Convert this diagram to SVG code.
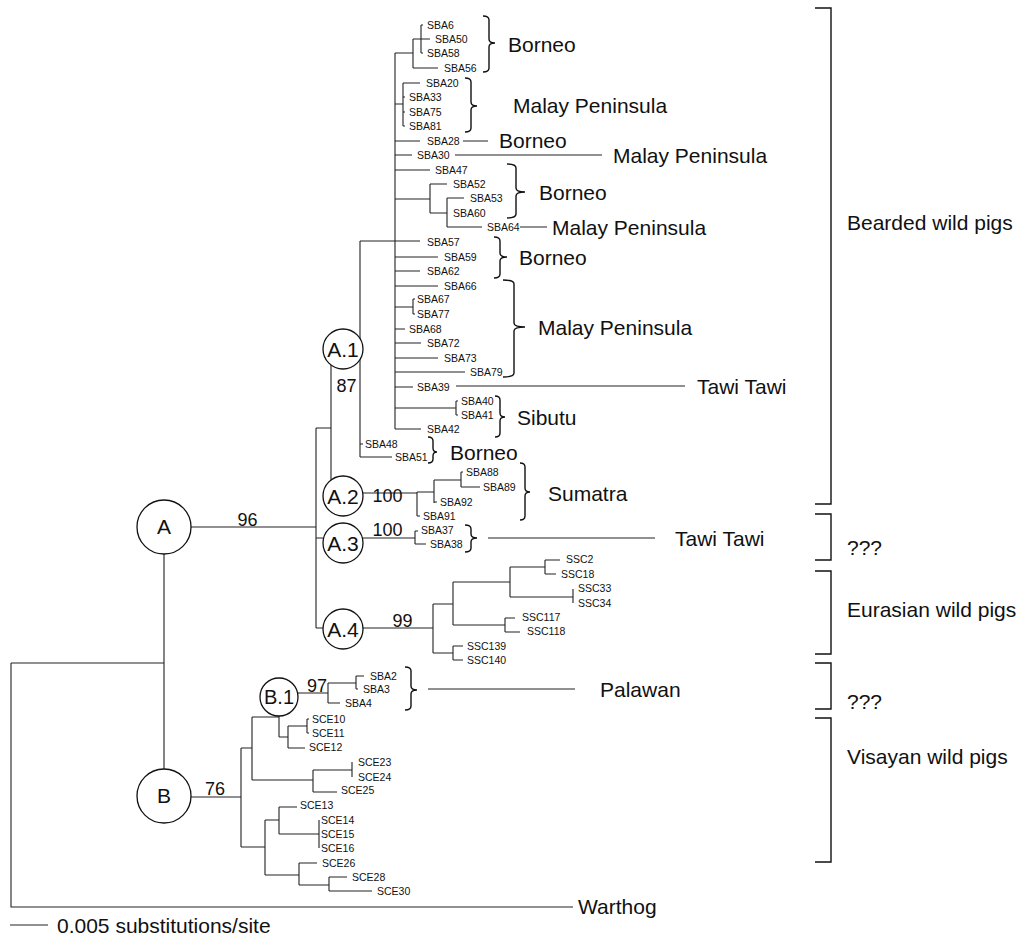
<svg xmlns="http://www.w3.org/2000/svg" width="1018" height="936" viewBox="0 0 1018 936">
<style>
.ln{fill:none;stroke:#222;stroke-width:1.1}
.br{fill:none;stroke:#111;stroke-width:1.4}
.nd{fill:#fff;stroke:#111;stroke-width:1.3}
text{font-family:"Liberation Sans",Arial,sans-serif;fill:#111}
.t{font-size:10.5px}
.r{font-size:21px}
.b{font-size:18px;text-anchor:middle}
.c{font-size:21px;text-anchor:middle}
</style>
<rect width="1018" height="936" fill="#fff"/>
<g id="connectors">
<path class="ln" d="M11,663V907H573 M11,663H164 M164,527V796 M164,527H316 M316,428V628 M316,428H331 M331,349V493 M331,349H360 M360,241V457 M360,241H395 M360,444H363 M360,457H392 M395,53V429
M395,53H413 M413,39V68 M413,39H430 M421,25V53 M421,25H423 M421,53H423 M413,68H438
M395,104H403 M403,83V126 M403,83H420 M403,97H405 M403,112H405 M403,126H405
M395,141H420 M395,155H412 M395,170H430
M395,199H430 M430,184V213 M430,184H447 M430,213H447 M447,198V227 M447,198H464 M447,227H482
M395,241H420 M395,257H438 M395,271H420 M395,286H438
M395,307H413 M413,299V314 M413,299H415 M413,314H415
M395,329H405 M395,343H421 M395,358H438 M395,372H465 M395,387H413
M395,408H456 M456,401V415 M456,401H458 M456,415H458
M395,429H421
M463,141H488 M455,155H602 M520,227H547 M456,386H685
M331,493H417 M417,492V516 M417,492H434 M434,480V503 M434,480H461 M461,472V487 M461,472H463 M461,487H480 M434,502H437 M417,516H420
M316,538H415 M415,531V544 M415,531H418 M415,544H426 M488,538H655
M316,628H433 M433,604V653 M433,604H453 M453,582V625 M453,582H510 M510,567V597 M510,567H545 M545,560V574 M545,560H560 M545,574H556 M510,597H573 M573,589V603 M453,625H505 M505,618V632 M505,618H515 M505,632H520 M433,653H453 M453,646V660 M453,646H463 M453,660H463
M164,797H241 M241,748V847 M241,748H252 M252,717V780 M252,717H279 M279,693V737 M279,693H328 M328,683V703 M328,683H356 M356,676V689 M356,676H364 M356,689H358 M328,703H340 M279,737H288 M288,726V748 M288,726H307 M307,719V733 M307,719H309 M307,733H309 M288,748H305 M252,780H313 M313,770V792 M313,770H352 M352,762V777 M313,792H337
M241,847H265 M265,820V875 M265,820H279 M279,807V834 M279,807H297 M279,834H319 M319,820V848 M265,875H299 M299,863V885 M299,863H317 M299,885H329 M329,877V891 M329,877H347 M329,891H372
M428,689H575 M10,925H48"/>
<path class="br" d="M483,16Q489,16 489,20V39Q489,43 495,43Q489,43 489,47V68Q489,72 483,72
M465,78Q471,78 471,82V102Q471,106 477,106Q471,106 471,110V128Q471,132 465,132
M507,164Q516,164 516,168V188Q516,192 525,192Q516,192 516,196V214Q516,218 507,218
M494,237Q500,237 500,241V253Q500,257 507,257Q500,257 500,261V274Q500,278 494,278
M503,280Q514,280 514,284V323Q514,327 525,327Q514,327 514,331V373Q514,377 503,377
M495,396Q500,396 500,400V413Q500,417 505,417Q500,417 500,421V433Q500,437 495,437
M428,437Q433,437 433,441V448Q433,452 437,452Q433,452 433,456V459Q433,463 428,463
M520,463Q525,463 525,467V488Q525,492 530,492Q525,492 525,496V516Q525,520 520,520
M465,525Q471,525 471,529V534Q471,538 477,538Q471,538 471,542V548Q471,552 465,552
M405,667Q411,667 411,671V686Q411,690 417,690Q411,690 411,694V706Q411,710 405,710"/>
<path class="br" d="M815,8H831V504H815 M815,514H831V560H815 M815,571H831V654H815 M815,663H831V709H815 M815,718H831V862H815"/>
</g>
<g id="node-A"><circle class="nd" cx="164" cy="527" r="27"/><text class="c" x="164" y="534">A</text></g>
<g id="node-B"><circle class="nd" cx="164" cy="796" r="27"/><text class="c" x="164" y="803">B</text></g>
<g id="node-A1"><circle class="nd" cx="343" cy="349" r="20"/><text class="c" x="343" y="356.5">A.1</text></g>
<g id="node-A2"><circle class="nd" cx="343" cy="496" r="20"/><text class="c" x="343" y="503.5">A.2</text></g>
<g id="node-A3"><circle class="nd" cx="343" cy="543" r="20"/><text class="c" x="343" y="550.5">A.3</text></g>
<g id="node-A4"><circle class="nd" cx="343" cy="629" r="20"/><text class="c" x="343" y="636.5">A.4</text></g>
<g id="node-B1"><circle class="nd" cx="279" cy="697" r="19"/><text class="c" x="279" y="704" style="font-size:20px">B.1</text></g>
<g id="support">
<text class="b" x="247.5" y="526">96</text>
<text class="b" x="346.5" y="392">87</text>
<text class="b" x="387.5" y="502">100</text>
<text class="b" x="387.5" y="536">100</text>
<text class="b" x="402.5" y="627">99</text>
<text class="b" x="317" y="692">97</text>
<text class="b" x="215" y="795">76</text>
</g>
<g id="tips" class="t">
<text class="t" x="427" y="29">SBA6</text>
<text class="t" x="435" y="43">SBA50</text>
<text class="t" x="427" y="57">SBA58</text>
<text class="t" x="444" y="72">SBA56</text>
<text class="t" x="426" y="87">SBA20</text>
<text class="t" x="409" y="101">SBA33</text>
<text class="t" x="409" y="116">SBA75</text>
<text class="t" x="409" y="130">SBA81</text>
<text class="t" x="427" y="145">SBA28</text>
<text class="t" x="417" y="159">SBA30</text>
<text class="t" x="435" y="174">SBA47</text>
<text class="t" x="453" y="188">SBA52</text>
<text class="t" x="470" y="202">SBA53</text>
<text class="t" x="453" y="217">SBA60</text>
<text class="t" x="487" y="231">SBA64</text>
<text class="t" x="427" y="246">SBA57</text>
<text class="t" x="444" y="261">SBA59</text>
<text class="t" x="427" y="275">SBA62</text>
<text class="t" x="444" y="290">SBA66</text>
<text class="t" x="417" y="303">SBA67</text>
<text class="t" x="417" y="318">SBA77</text>
<text class="t" x="409" y="333">SBA68</text>
<text class="t" x="427" y="347">SBA72</text>
<text class="t" x="444" y="362">SBA73</text>
<text class="t" x="470" y="376">SBA79</text>
<text class="t" x="417" y="391">SBA39</text>
<text class="t" x="461" y="405">SBA40</text>
<text class="t" x="461" y="419">SBA41</text>
<text class="t" x="427" y="433">SBA42</text>
<text class="t" x="365" y="448">SBA48</text>
<text class="t" x="395" y="461">SBA51</text>
<text class="t" x="466" y="476">SBA88</text>
<text class="t" x="483" y="491">SBA89</text>
<text class="t" x="440" y="506">SBA92</text>
<text class="t" x="423" y="520">SBA91</text>
<text class="t" x="421" y="534">SBA37</text>
<text class="t" x="430" y="548">SBA38</text>
<text class="t" x="566" y="563">SSC2</text>
<text class="t" x="561" y="578">SSC18</text>
<text class="t" x="578" y="592">SSC33</text>
<text class="t" x="578" y="607">SSC34</text>
<text class="t" x="522" y="621">SSC117</text>
<text class="t" x="527" y="635">SSC118</text>
<text class="t" x="467" y="650">SSC139</text>
<text class="t" x="467" y="664">SSC140</text>
<text class="t" x="370" y="680">SBA2</text>
<text class="t" x="363" y="693">SBA3</text>
<text class="t" x="345" y="707">SBA4</text>
<text class="t" x="312" y="723">SCE10</text>
<text class="t" x="312" y="737">SCE11</text>
<text class="t" x="309" y="751">SCE12</text>
<text class="t" x="358" y="766">SCE23</text>
<text class="t" x="358" y="781">SCE24</text>
<text class="t" x="341" y="794">SCE25</text>
<text class="t" x="300" y="809">SCE13</text>
<text class="t" x="321" y="824">SCE14</text>
<text class="t" x="321" y="838">SCE15</text>
<text class="t" x="321" y="852">SCE16</text>
<text class="t" x="322" y="867">SCE26</text>
<text class="t" x="352" y="881">SCE28</text>
<text class="t" x="377" y="895">SCE30</text>
</g>
<g id="regions" class="r">
<text class="r" x="508" y="52">Borneo</text>
<text class="r" x="513" y="112.5">Malay Peninsula</text>
<text class="r" x="499" y="148">Borneo</text>
<text class="r" x="613" y="162.5">Malay Peninsula</text>
<text class="r" x="539" y="199.5">Borneo</text>
<text class="r" x="552" y="234.5">Malay Peninsula</text>
<text class="r" x="519" y="264.5">Borneo</text>
<text class="r" x="538" y="334.5">Malay Peninsula</text>
<text class="r" x="697" y="393.5">Tawi Tawi</text>
<text class="r" x="517" y="424.5">Sibutu</text>
<text class="r" x="450" y="459.5">Borneo</text>
<text class="r" x="548" y="500.5">Sumatra</text>
<text class="r" x="675" y="545.5">Tawi Tawi</text>
<text class="r" x="600" y="696.5">Palawan</text>
<text class="r" x="578" y="914">Warthog</text>
</g>
<g id="groups" class="r">
<text class="r" x="847" y="229.5">Bearded wild pigs</text>
<text class="r" x="847" y="555">???</text>
<text class="r" x="847" y="617">Eurasian wild pigs</text>
<text class="r" x="847" y="709">???</text>
<text class="r" x="847" y="764">Visayan wild pigs</text>
</g>
<g id="scale"><text x="57" y="932.5" style="font-size:21px">0.005 substitutions/site</text></g>
</svg>
